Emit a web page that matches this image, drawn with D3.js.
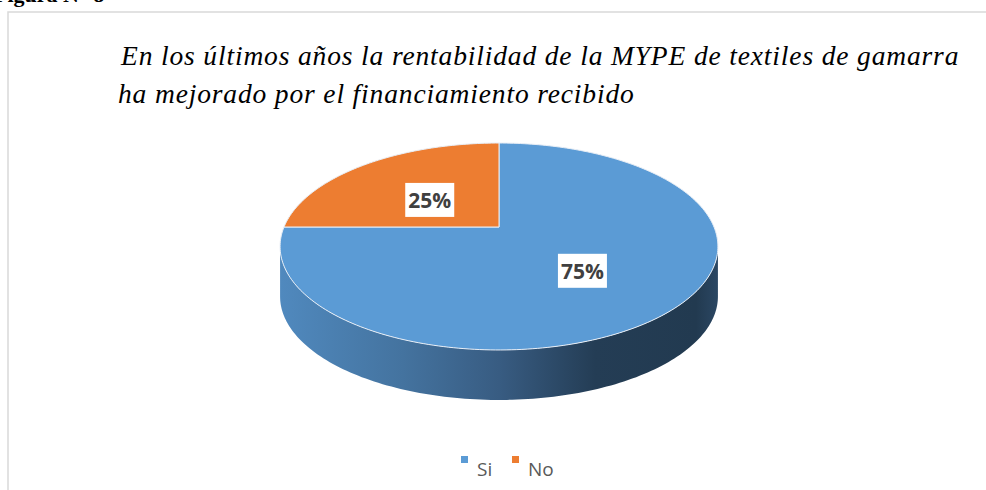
<!DOCTYPE html>
<html>
<head>
<meta charset="utf-8">
<script src="https://cdn.jsdelivr.net/npm/d3@7"></script>
<style>
body{margin:0;background:#fff;}
</style>
</head>
<body>
<div class="chart"></div>
<script>
//////////////////////データ//////////////////////
var categories=["Si","No"];
var values=[75,25];
var labels=["75%","25%"];
var colors=["#5b9bd5","#ed7d31"];
var titleLines=[
    "En los últimos años la rentabilidad de la MYPE de textiles de gamarra",
    "ha mejorado por el financiamiento recibido"
];

//////////////////////描画//////////////////////
var W=986,H=490;
var serif="'Liberation Serif'";
var svg=d3.select(".chart").append("svg").attr("width",W).attr("height",H);

//上の切れた見出し
svg.append("text")
    .attr("x",-6).attr("y",2)
    .style("font-family",serif)
    .style("font-weight","bold")
    .attr("font-size",22)
    .attr("fill","#000")
    .text("Figura N° 8");

//枠線
svg.append("path")
    .attr("d","M8,490 L8,12 L986,12")
    .attr("fill","none")
    .attr("stroke","#d9d9d9")
    .attr("stroke-width",1.5);

//タイトル
svg.append("g").selectAll("text")
    .data(titleLines)
    .enter()
    .append("text")
    .attr("x",function(d,i){return i==0?121:118;})
    .attr("y",function(d,i){return 65+i*38;})
    .style("font-family",serif)
    .style("font-style","italic")
    .style("letter-spacing","0.85px")
    .attr("font-size",27.5)
    .attr("fill","#000")
    .text(function(d){return d;});

//3D円グラフの投影
var cx=499,cy=227;
var R=215,Hy=99.8,k=0.1884,depth=50;
function proj(a,f,dz){
    var u=f*Math.sin(a), v=-f*Math.cos(a);
    var s=1/(1-k*v);
    return [cx+R*u*s, cy+Hy*v*s+(dz||0)];
}
function arcPoints(a0,a1,f,dz){
    var n=Math.max(2,Math.ceil(Math.abs(a1-a0)/0.02));
    var pts=[];
    for(var i=0;i<=n;i++){
        pts.push(proj(a0+(a1-a0)*i/n,f,dz));
    }
    return pts;
}

var pie=d3.pie().sort(null).value(function(d){return d;});
var arcs=pie(values);
var line=d3.line();

//側面グラデーション
var defs=svg.append("defs");
var grad=defs.append("linearGradient").attr("id","sideGrad")
    .attr("x1","0%").attr("x2","100%").attr("y1","0%").attr("y2","0%");
[[0,"#5089be"],[0.28,"#44739f"],[0.5,"#385c82"],[0.72,"#243d55"],[0.95,"#223a50"],[1,"#2b4763"]]
    .forEach(function(s){
        grad.append("stop").attr("offset",s[0]).attr("stop-color",s[1]);
    });

//側面（手前側のみ）
var aR=Math.PI/2+Math.asin(k);
var aL=3*Math.PI/2-Math.asin(k);
var sidePts=arcPoints(aR,aL,1,0).concat(arcPoints(aL,aR,1,depth));
svg.append("path")
    .attr("d",line(sidePts)+"Z")
    .attr("fill","url(#sideGrad)");

//上面
svg.append("g")
    .selectAll("path")
    .data(arcs)
    .enter()
    .append("path")
    .attr("d",function(d){
        var pts=[proj(0,0)].concat(arcPoints(d.startAngle,d.endAngle,1,0));
        return line(pts)+"Z";
    })
    .attr("fill",function(d,i){return colors[i];})
    .attr("stroke","#e8eef6")
    .attr("stroke-width",1)
    .attr("stroke-linejoin","round");

//データラベル
var lab=svg.append("g").selectAll("g")
    .data(arcs)
    .enter()
    .append("g")
    .attr("transform",function(d){
        var p=proj((d.startAngle+d.endAngle)/2,0.5,0);
        return "translate("+(p[0]+2)+","+(p[1]+6)+")";
    });
lab.append("rect")
    .attr("x",-24.5).attr("y",-17)
    .attr("width",49).attr("height",34)
    .attr("fill","#fff");
lab.append("text")
    .attr("text-anchor","middle")
    .attr("y",8)
    .style("font-family","'Open Sans',sans-serif")
    .style("font-weight","bold")
    .attr("font-size",21)
    .attr("fill","#404040")
    .text(function(d,i){return labels[i];});

//凡例
var xLeg=d3.scalePoint().domain(categories).range([461,512]);
var leg=svg.append("g").selectAll("g")
    .data(categories)
    .enter()
    .append("g")
    .attr("transform",function(d){return "translate("+xLeg(d)+",456)";});
leg.append("rect")
    .attr("width",7).attr("height",7)
    .attr("fill",function(d,i){return colors[i];});
leg.append("text")
    .attr("x",16).attr("y",20)
    .style("font-family","'Open Sans',sans-serif")
    .attr("font-size",19)
    .attr("fill","#595959")
    .text(function(d){return d;});
</script>
</body>
</html>
